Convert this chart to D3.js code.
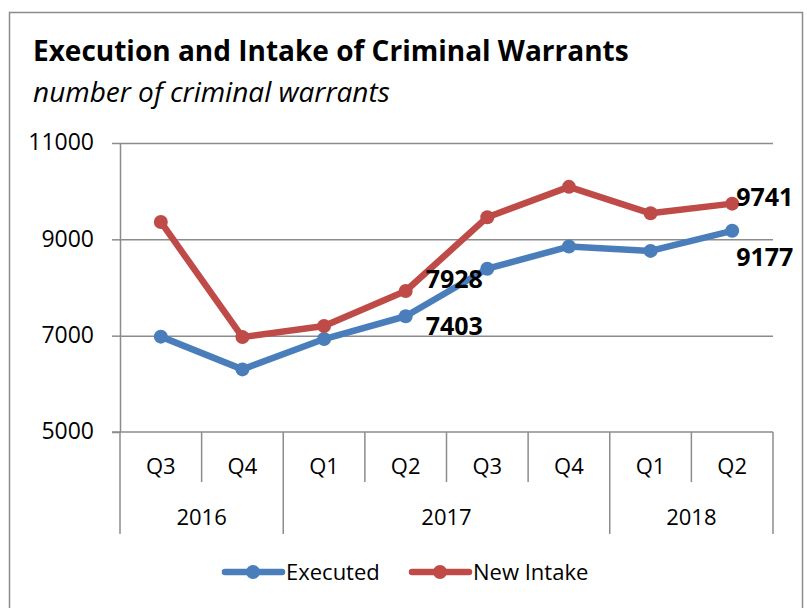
<!DOCTYPE html>
<html>
<head>
<meta charset="utf-8">
<script src="https://cdn.jsdelivr.net/npm/d3@7"></script>
<style>
  body { margin: 0; background: #fff; }
  svg { display: block; }
  text { font-family: "Open Sans", Lato, sans-serif; }
</style>
</head>
<body>
<div id="chart"></div>
<script>
// chart values
const quarters = ['Q3', 'Q4', 'Q1', 'Q2', 'Q3', 'Q4', 'Q1', 'Q2'];
const years = ['2016', '2017', '2018'];
const yearSpans = [2, 4, 2];
const executed = [6980, 6300, 6930, 7403, 8390, 8850, 8760, 9177];
const newIntake = [9360, 6970, 7200, 7928, 9460, 10090, 9540, 9741];
const yTicks = [5000, 7000, 9000, 11000];
const seriesNames = ['Executed', 'New Intake'];
const labelled = [3, 7]; // points carrying value labels

const W = 807, H = 608;
const margin = {top: 143, right: 34, bottom: 176, left: 120};
const width = W - margin.left - margin.right;
const height = H - margin.top - margin.bottom;
const colors = ['#4a7ebb', '#be4b48'];

const svg = d3.select('#chart').append('svg')
    .attr('width', W)
    .attr('height', H);

// outer frame
svg.append('rect')
    .attr('x', 9.5).attr('y', 12.5)
    .attr('width', 793).attr('height', 620)
    .attr('fill', 'none')
    .attr('stroke', '#8c8c8c')
    .attr('stroke-width', 1.5);

svg.append('text')
    .attr('x', 33).attr('y', 61)
    .attr('font-size', 28).attr('font-weight', 'bold')
    .text('Execution and Intake of Criminal Warrants');

svg.append('text')
    .attr('x', 33).attr('y', 102)
    .attr('font-size', 28).attr('font-style', 'italic')
    .text('number of criminal warrants');

const chart = svg.append('g')
    .attr('transform', `translate(${margin.left},${margin.top})`);

const xScale = d3.scaleBand()
    .domain(d3.range(quarters.length))
    .range([0, width])
    .padding(0);
const xc = i => xScale(i) + xScale.bandwidth() / 2;

const yScale = d3.scaleLinear()
    .domain([5000, 11000])
    .range([height, 0]);

// gridlines
chart.append('g')
    .attr('class', 'grid')
    .call(d3.axisLeft(yScale).tickValues(yTicks.slice(1)).tickSize(-width).tickFormat(''))
    .call(g => g.select('.domain').remove())
    .selectAll('line')
    .attr('stroke', '#8c8c8c')
    .attr('stroke-width', 1.5);

// y axis
const yAxisG = chart.append('g')
    .call(d3.axisLeft(yScale).tickValues(yTicks).tickSizeInner(8).tickSizeOuter(0).tickPadding(18).tickFormat(d3.format('d')));
yAxisG.select('.domain').attr('stroke', '#8c8c8c').attr('stroke-width', 1.5);
yAxisG.selectAll('line').attr('stroke', '#8c8c8c').attr('stroke-width', 1.5);
yAxisG.selectAll('text')
    .attr('font-family', '"Open Sans", sans-serif')
    .attr('font-size', 23)
    .attr('dy', '0.3em')
    .attr('fill', '#000');

// x axis baseline
chart.append('line')
    .attr('x1', -8).attr('x2', width)
    .attr('y1', height).attr('y2', height)
    .attr('stroke', '#8c8c8c').attr('stroke-width', 1.5);

// quarter separators and labels
const quarterDepth = 50, yearDepth = 102;
chart.selectAll('.qsep')
    .data(d3.range(quarters.length + 1))
    .join('line')
    .attr('class', 'qsep')
    .attr('x1', i => i < quarters.length ? xScale(i) : width)
    .attr('x2', i => i < quarters.length ? xScale(i) : width)
    .attr('y1', height)
    .attr('y2', height + quarterDepth)
    .attr('stroke', '#8c8c8c').attr('stroke-width', 1.5);

chart.selectAll('.qlabel')
    .data(quarters)
    .join('text')
    .attr('class', 'qlabel')
    .attr('x', (d, i) => xc(i))
    .attr('y', height + 42)
    .attr('text-anchor', 'middle')
    .attr('font-size', 22)
    .text(d => d);

// year separators and labels
const yearStarts = yearSpans.map((s, i) => d3.sum(yearSpans.slice(0, i)));
const yearBounds = yearStarts.concat([quarters.length]);
chart.selectAll('.ysep')
    .data(yearBounds)
    .join('line')
    .attr('class', 'ysep')
    .attr('x1', i => i < quarters.length ? xScale(i) : width)
    .attr('x2', i => i < quarters.length ? xScale(i) : width)
    .attr('y1', height + quarterDepth)
    .attr('y2', height + yearDepth)
    .attr('stroke', '#8c8c8c').attr('stroke-width', 1.5);

chart.selectAll('.ylabel')
    .data(years)
    .join('text')
    .attr('class', 'ylabel')
    .attr('x', (d, i) => {
        const a = xScale(yearStarts[i]);
        const endIdx = yearStarts[i] + yearSpans[i];
        const b = endIdx < quarters.length ? xScale(endIdx) : width;
        return (a + b) / 2;
    })
    .attr('y', height + 93)
    .attr('text-anchor', 'middle')
    .attr('font-size', 22)
    .text(d => d);

// series
const series = [executed, newIntake];
const line = d3.line()
    .x((d, i) => xc(i))
    .y(d => yScale(d));

series.forEach((vals, s) => {
    chart.append('path')
        .datum(vals)
        .attr('d', line)
        .attr('fill', 'none')
        .attr('stroke', colors[s])
        .attr('stroke-width', 6.5)
        .attr('stroke-linejoin', 'round');
    chart.selectAll('.pt' + s)
        .data(vals)
        .join('circle')
        .attr('class', 'pt' + s)
        .attr('cx', (d, i) => xc(i))
        .attr('cy', d => yScale(d))
        .attr('r', 7)
        .attr('fill', colors[s]);
});

// value labels
const labelOffsets = [[{dx: 20, dy: 19}, {dx: 4, dy: 35}], [{dx: 20, dy: -3}, {dx: 4, dy: 2}]];
series.forEach((vals, s) => {
    labelled.forEach((idx, k) => {
        chart.append('text')
            .attr('x', xc(idx) + labelOffsets[s][k].dx)
            .attr('y', yScale(vals[idx]) + labelOffsets[s][k].dy)
            .attr('font-size', 25)
            .attr('font-weight', 'bold')
            .text(vals[idx]);
    });
});

// legend
const legend = svg.append('g').attr('transform', 'translate(0,572)');
const legendX = [225, 412];
seriesNames.forEach((name, s) => {
    const g = legend.append('g').attr('transform', `translate(${legendX[s]},0)`);
    g.append('line')
        .attr('x1', 0).attr('x2', 57)
        .attr('stroke', colors[s]).attr('stroke-width', 6.5)
        .attr('stroke-linecap', 'round');
    g.append('circle').attr('cx', 28).attr('r', 7).attr('fill', colors[s]);
    g.append('text')
        .attr('x', 61).attr('y', 8)
        .attr('font-size', 22)
        .text(name);
});
</script>
</body>
</html>
